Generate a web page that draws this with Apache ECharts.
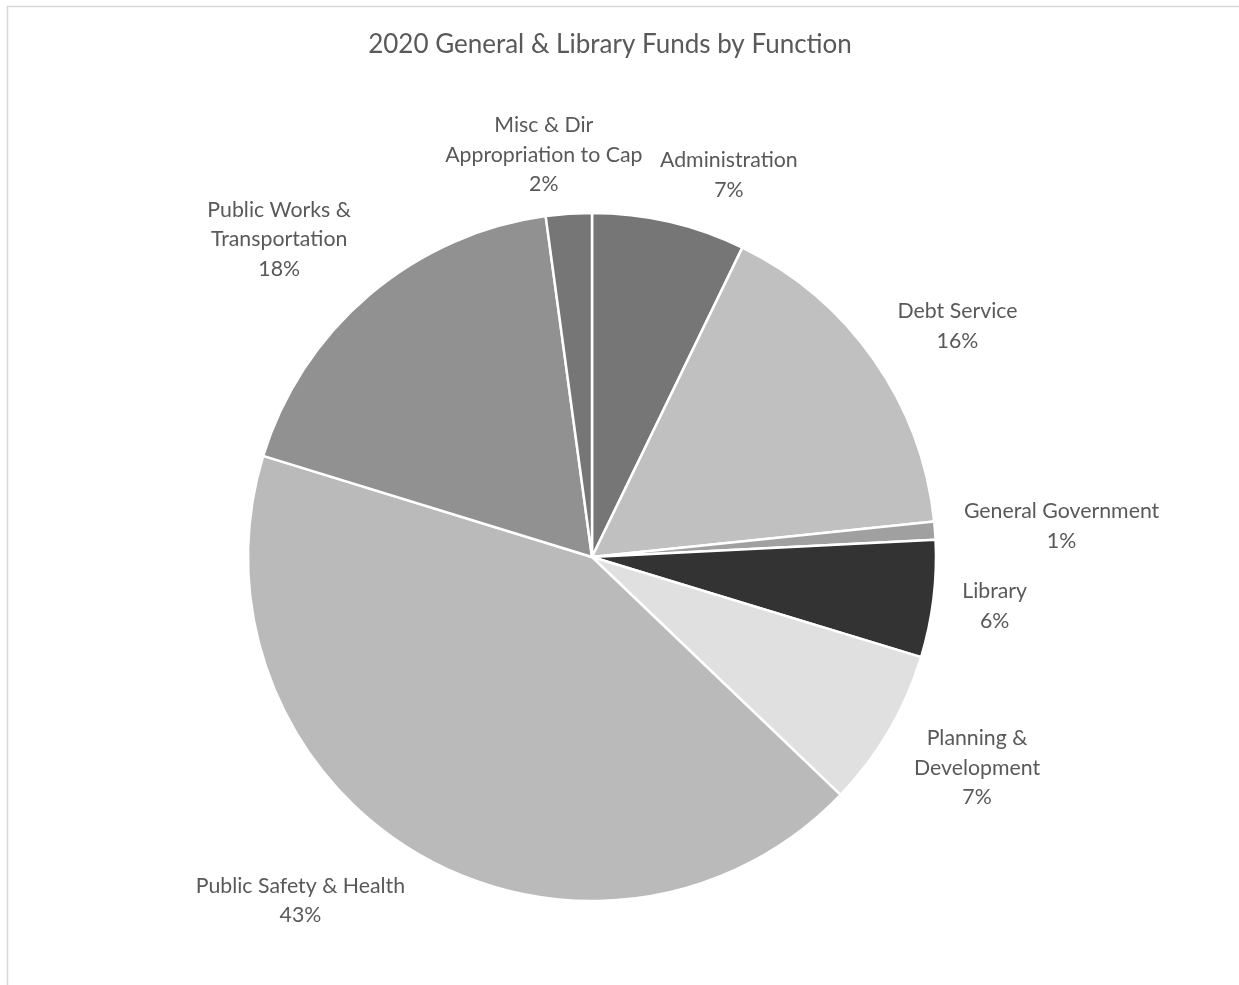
<!DOCTYPE html>
<html>
<head>
<meta charset="utf-8">
<script src="https://cdn.jsdelivr.net/npm/echarts@6/dist/echarts.min.js"></script>
<style>
  html, body { margin: 0; padding: 0; background: #ffffff; }
  #chart { width: 1239px; height: 985px; }
</style>
</head>
<body>
<div id="chart"></div>
<script>
const titleText = '2020 General & Library Funds by Function';
const categories = [
  'Administration',
  'Debt Service',
  'General Government',
  'Library',
  'Planning &\nDevelopment',
  'Public Safety & Health',
  'Public Works &\nTransportation',
  'Misc & Dir\nAppropriation to Cap'
];
const shares = [7.2, 16.15, 0.85, 5.5, 7.45, 42.6, 18.1, 2.15];
const sliceColors = ['#767676', '#c0c0c0', '#a0a0a0', '#333333', '#e0e0e0', '#bababa', '#919191', '#767676'];

const CX = 592, CY = 557, R = 344;
const FONT = 'Lato', LABEL_SIZE = 21.3, LINE_H = 29.5, TITLE_SIZE = 26, TITLE_CENTER_X = 610;
const total = shares.reduce((a, b) => a + b, 0);
const measureCtx = document.createElement('canvas').getContext('2d');

// Excel-like "outside end" placement: anchor on the slice's mid-angle ray,
// label box offset outward by a share of its size depending on direction.
const labelPos = (function () {
  measureCtx.font = LABEL_SIZE + 'px ' + FONT;
  let cum = 0;
  return shares.map((v, i) => {
    const a = (cum + v / 2) / total * 2 * Math.PI;
    cum += v;
    const lines = categories[i].split('\n').concat([Math.round(v / total * 100) + '%']);
    const w = Math.max.apply(null, lines.map(t => measureCtx.measureText(t).width));
    const h = lines.length * LINE_H;
    const ux = Math.sin(a), uy = -Math.cos(a);
    const d = R + 13 + 16 * Math.min(1, 1.5 * Math.abs(ux));
    const f = Math.max(-1, Math.min(1, 3.6 * ux));
    return { x: CX + ux * d + f * w / 2, y: CY + uy * d + uy * h / 2 };
  });
})();

measureCtx.font = TITLE_SIZE + 'px ' + FONT;
const titleWidth = measureCtx.measureText(titleText).width;

const chart = echarts.init(document.getElementById('chart'));
chart.setOption({
  backgroundColor: '#ffffff',
  animation: false,
  title: {
    text: titleText,
    left: TITLE_CENTER_X - titleWidth / 2 - 5,
    top: 27,
    textStyle: { fontFamily: FONT, fontSize: TITLE_SIZE, fontWeight: 'normal', color: '#595959' }
  },
  graphic: [{
    type: 'rect',
    shape: { x: 7.5, y: 6.5, width: 1400, height: 1200 },
    style: { fill: 'none', stroke: '#d9d9d9', lineWidth: 1.5 },
    silent: true
  }],
  series: [{
    type: 'pie',
    center: [CX, CY],
    radius: R,
    startAngle: 90,
    clockwise: true,
    avoidLabelOverlap: false,
    percentPrecision: 0,
    data: categories.map((c, i) => ({ name: c, value: shares[i], itemStyle: { color: sliceColors[i] } })),
    itemStyle: { borderColor: '#ffffff', borderWidth: 2.5 },
    label: {
      show: true,
      position: 'outside',
      formatter: '{b}\n{d}%',
      fontFamily: FONT,
      fontSize: LABEL_SIZE,
      lineHeight: LINE_H,
      color: '#595959',
      align: 'center'
    },
    labelLine: { show: false },
    labelLayout: function (p) {
      const l = labelPos[p.dataIndex];
      return { x: l.x, y: l.y, align: 'center', verticalAlign: 'middle' };
    },
    emphasis: { disabled: true }
  }]
});
</script>
</body>
</html>
